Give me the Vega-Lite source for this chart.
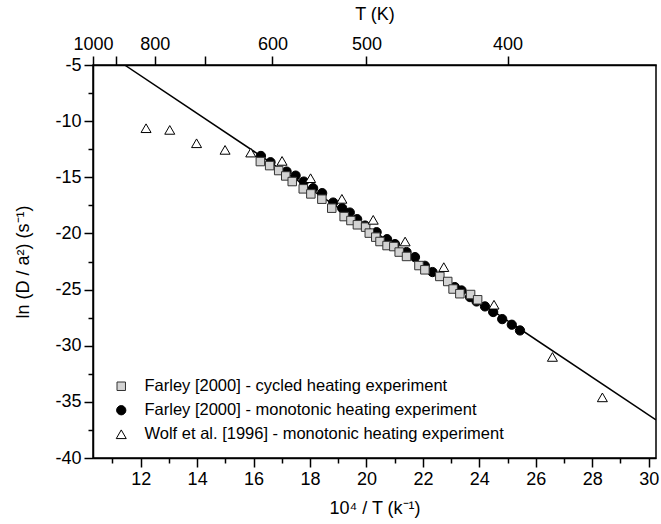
{
  "$schema": "https://vega.github.io/schema/vega-lite/v6.json",
  "width": 563,
  "height": 393,
  "autosize": {"type": "none"},
  "padding": {"left": 93, "top": 65, "right": 5, "bottom": 66},
  "background": "white",
  "config": {
    "view": {"stroke": "#000", "strokeWidth": 1.5},
    "font": "Liberation Sans",
    "axis": {
      "grid": false,
      "domainColor": "#000",
      "domainWidth": 1.5,
      "tickColor": "#000",
      "tickWidth": 1.5,
      "labelColor": "#000",
      "titleColor": "#000",
      "labelFont": "Liberation Sans",
      "titleFont": "Liberation Sans",
      "labelFontSize": 18,
      "titleFontSize": 18,
      "titleFontWeight": "normal",
      "labelOverlap": false,
      "labelFlush": false,
      "labelBound": false
    },
    "legend": {
      "labelFont": "Liberation Sans",
      "labelFontSize": 16.5,
      "labelColor": "#000",
      "labelLimit": 0
    }
  },
  "datasets": {
    "fit": [
      {"x": 11.43, "y": -5},
      {"x": 30.26, "y": -36.6}
    ],
    "obs": [
      {"series": "Farley [2000] - monotonic heating experiment", "x": 16.26, "y": -13.10},
      {"series": "Farley [2000] - monotonic heating experiment", "x": 16.60, "y": -13.66},
      {"series": "Farley [2000] - monotonic heating experiment", "x": 17.17, "y": -14.49},
      {"series": "Farley [2000] - monotonic heating experiment", "x": 17.49, "y": -14.85},
      {"series": "Farley [2000] - monotonic heating experiment", "x": 17.78, "y": -15.38},
      {"series": "Farley [2000] - monotonic heating experiment", "x": 18.11, "y": -15.97},
      {"series": "Farley [2000] - monotonic heating experiment", "x": 18.43, "y": -16.41},
      {"series": "Farley [2000] - monotonic heating experiment", "x": 18.82, "y": -17.25},
      {"series": "Farley [2000] - monotonic heating experiment", "x": 19.14, "y": -17.75},
      {"series": "Farley [2000] - monotonic heating experiment", "x": 19.41, "y": -18.14},
      {"series": "Farley [2000] - monotonic heating experiment", "x": 19.67, "y": -18.73},
      {"series": "Farley [2000] - monotonic heating experiment", "x": 19.95, "y": -19.30},
      {"series": "Farley [2000] - monotonic heating experiment", "x": 20.36, "y": -19.89},
      {"series": "Farley [2000] - monotonic heating experiment", "x": 20.73, "y": -20.51},
      {"series": "Farley [2000] - monotonic heating experiment", "x": 21.01, "y": -20.95},
      {"series": "Farley [2000] - monotonic heating experiment", "x": 21.42, "y": -21.66},
      {"series": "Farley [2000] - monotonic heating experiment", "x": 21.72, "y": -22.11},
      {"series": "Farley [2000] - monotonic heating experiment", "x": 22.07, "y": -22.88},
      {"series": "Farley [2000] - monotonic heating experiment", "x": 22.34, "y": -23.44},
      {"series": "Farley [2000] - monotonic heating experiment", "x": 23.13, "y": -24.78},
      {"series": "Farley [2000] - monotonic heating experiment", "x": 23.37, "y": -25.08},
      {"series": "Farley [2000] - monotonic heating experiment", "x": 23.67, "y": -25.67},
      {"series": "Farley [2000] - monotonic heating experiment", "x": 23.90, "y": -26.06},
      {"series": "Farley [2000] - monotonic heating experiment", "x": 24.20, "y": -26.50},
      {"series": "Farley [2000] - monotonic heating experiment", "x": 24.49, "y": -27.00},
      {"series": "Farley [2000] - monotonic heating experiment", "x": 24.81, "y": -27.63},
      {"series": "Farley [2000] - monotonic heating experiment", "x": 25.15, "y": -28.13},
      {"series": "Farley [2000] - monotonic heating experiment", "x": 25.44, "y": -28.64},
      {"series": "Farley [2000] - cycled heating experiment", "x": 16.24, "y": -13.60},
      {"series": "Farley [2000] - cycled heating experiment", "x": 16.57, "y": -13.96},
      {"series": "Farley [2000] - cycled heating experiment", "x": 16.89, "y": -14.40},
      {"series": "Farley [2000] - cycled heating experiment", "x": 17.14, "y": -14.88},
      {"series": "Farley [2000] - cycled heating experiment", "x": 17.37, "y": -15.38},
      {"series": "Farley [2000] - cycled heating experiment", "x": 17.76, "y": -16.03},
      {"series": "Farley [2000] - cycled heating experiment", "x": 18.03, "y": -16.48},
      {"series": "Farley [2000] - cycled heating experiment", "x": 18.42, "y": -16.95},
      {"series": "Farley [2000] - cycled heating experiment", "x": 18.77, "y": -17.75},
      {"series": "Farley [2000] - cycled heating experiment", "x": 19.21, "y": -18.50},
      {"series": "Farley [2000] - cycled heating experiment", "x": 19.45, "y": -18.85},
      {"series": "Farley [2000] - cycled heating experiment", "x": 19.68, "y": -19.23},
      {"series": "Farley [2000] - cycled heating experiment", "x": 19.97, "y": -19.44},
      {"series": "Farley [2000] - cycled heating experiment", "x": 20.10, "y": -19.97},
      {"series": "Farley [2000] - cycled heating experiment", "x": 20.33, "y": -20.33},
      {"series": "Farley [2000] - cycled heating experiment", "x": 20.48, "y": -20.72},
      {"series": "Farley [2000] - cycled heating experiment", "x": 20.73, "y": -21.08},
      {"series": "Farley [2000] - cycled heating experiment", "x": 20.97, "y": -21.17},
      {"series": "Farley [2000] - cycled heating experiment", "x": 21.16, "y": -21.66},
      {"series": "Farley [2000] - cycled heating experiment", "x": 21.42, "y": -22.05},
      {"series": "Farley [2000] - cycled heating experiment", "x": 21.86, "y": -22.86},
      {"series": "Farley [2000] - cycled heating experiment", "x": 22.07, "y": -23.24},
      {"series": "Farley [2000] - cycled heating experiment", "x": 22.60, "y": -23.83},
      {"series": "Farley [2000] - cycled heating experiment", "x": 22.88, "y": -24.28},
      {"series": "Farley [2000] - cycled heating experiment", "x": 23.07, "y": -24.95},
      {"series": "Farley [2000] - cycled heating experiment", "x": 23.31, "y": -25.37},
      {"series": "Farley [2000] - cycled heating experiment", "x": 23.69, "y": -25.44},
      {"series": "Farley [2000] - cycled heating experiment", "x": 23.94, "y": -25.91},
      {"series": "Wolf et al. [1996] - monotonic heating experiment", "x": 12.19, "y": -10.63},
      {"series": "Wolf et al. [1996] - monotonic heating experiment", "x": 13.03, "y": -10.78},
      {"series": "Wolf et al. [1996] - monotonic heating experiment", "x": 13.98, "y": -11.97},
      {"series": "Wolf et al. [1996] - monotonic heating experiment", "x": 14.99, "y": -12.56},
      {"series": "Wolf et al. [1996] - monotonic heating experiment", "x": 15.90, "y": -12.80},
      {"series": "Wolf et al. [1996] - monotonic heating experiment", "x": 17.01, "y": -13.54},
      {"series": "Wolf et al. [1996] - monotonic heating experiment", "x": 18.02, "y": -15.08},
      {"series": "Wolf et al. [1996] - monotonic heating experiment", "x": 19.13, "y": -16.92},
      {"series": "Wolf et al. [1996] - monotonic heating experiment", "x": 20.24, "y": -18.79},
      {"series": "Wolf et al. [1996] - monotonic heating experiment", "x": 21.37, "y": -20.72},
      {"series": "Wolf et al. [1996] - monotonic heating experiment", "x": 22.74, "y": -23.00},
      {"series": "Wolf et al. [1996] - monotonic heating experiment", "x": 24.52, "y": -26.35},
      {"series": "Wolf et al. [1996] - monotonic heating experiment", "x": 26.59, "y": -31.00},
      {"series": "Wolf et al. [1996] - monotonic heating experiment", "x": 28.36, "y": -34.60}
    ]
  },
  "resolve": {"axis": {"x": "independent", "y": "independent"}},
  "layer": [
    {
      "data": {"name": "fit"},
      "mark": {"type": "line", "color": "#000", "strokeWidth": 1.5, "clip": true},
      "encoding": {
        "x": {
          "field": "x", "type": "quantitative",
          "scale": {"domain": [10.31, 30.26], "nice": false, "zero": false},
          "axis": {
            "orient": "bottom",
            "values": [12, 14, 16, 18, 20, 22, 24, 26, 28, 30],
            "tickSize": 9,
            "labelPadding": 3,
            "title": "10⁴ / T (k⁻¹)",
            "titlePadding": 11
          }
        },
        "y": {
          "field": "y", "type": "quantitative",
          "scale": {"domain": [-40, -5], "nice": false, "zero": false},
          "axis": {
            "orient": "left",
            "values": [-5, -10, -15, -20, -25, -30, -35, -40],
            "labelExpr": "'' + datum.value",
            "tickSize": 9,
            "labelPadding": 3,
            "title": "ln (D / a²) (s⁻¹)",
            "titlePadding": 22
          }
        }
      }
    },
    {
      "data": {"name": "obs"},
      "mark": {"type": "point", "filled": true, "opacity": 1, "strokeWidth": 1},
      "encoding": {
        "x": {
          "field": "x", "type": "quantitative",
          "axis": {
            "orient": "bottom",
            "values": [11, 13, 15, 17, 19, 21, 23, 25, 27, 29],
            "labels": false,
            "tickSize": 5,
            "domain": false,
            "title": null
          }
        },
        "y": {
          "field": "y", "type": "quantitative",
          "axis": {
            "orient": "left",
            "values": [-7.5, -12.5, -17.5, -22.5, -27.5, -32.5, -37.5],
            "labels": false,
            "tickSize": 5,
            "domain": false,
            "title": null
          }
        },
        "shape": {
          "field": "series", "type": "nominal",
          "scale": {
            "domain": ["Farley [2000] - cycled heating experiment", "Farley [2000] - monotonic heating experiment", "Wolf et al. [1996] - monotonic heating experiment"],
            "range": ["square", "circle", "triangle-up"]
          },
          "legend": {
            "orient": "none",
            "legendX": 20,
            "legendY": 313,
            "title": null,
            "labelOffset": 15,
            "rowPadding": 7,
            "symbolStrokeWidth": 1
          }
        },
        "fill": {
          "field": "series", "type": "nominal",
          "scale": {
            "domain": ["Farley [2000] - cycled heating experiment", "Farley [2000] - monotonic heating experiment", "Wolf et al. [1996] - monotonic heating experiment"],
            "range": ["#d3d3d3", "#000000", "#ffffff"]
          },
          "legend": {
            "orient": "none",
            "legendX": 20,
            "legendY": 313,
            "title": null,
            "labelOffset": 15,
            "rowPadding": 7,
            "symbolStrokeWidth": 1
          }
        },
        "stroke": {
          "field": "series", "type": "nominal",
          "scale": {
            "domain": ["Farley [2000] - cycled heating experiment", "Farley [2000] - monotonic heating experiment", "Wolf et al. [1996] - monotonic heating experiment"],
            "range": ["#333333", "#000000", "#000000"]
          },
          "legend": {
            "orient": "none",
            "legendX": 20,
            "legendY": 313,
            "title": null,
            "labelOffset": 15,
            "rowPadding": 7,
            "symbolStrokeWidth": 1
          }
        },
        "size": {
          "field": "series", "type": "nominal",
          "scale": {
            "domain": ["Farley [2000] - cycled heating experiment", "Farley [2000] - monotonic heating experiment", "Wolf et al. [1996] - monotonic heating experiment"],
            "range": [72, 100, 115]
          },
          "legend": {
            "orient": "none",
            "legendX": 20,
            "legendY": 313,
            "title": null,
            "labelOffset": 15,
            "rowPadding": 7,
            "symbolStrokeWidth": 1
          }
        }
      }
    },
    {
      "data": {"name": "fit"},
      "mark": {"type": "point", "opacity": 0},
      "encoding": {
        "x": {
          "field": "x", "type": "quantitative",
          "axis": {
            "orient": "top",
            "values": [10.31, 11.11, 12.5, 14.29, 16.67, 20, 25],
            "labelExpr": "datum.value < 10.5 ? '1000' : datum.value < 11.5 ? '' : datum.value < 13 ? '800' : datum.value < 15 ? '' : datum.value < 17 ? '600' : datum.value < 21 ? '500' : '400'",
            "tickSize": 9,
            "labelPadding": 3,
            "title": "T (K)",
            "titlePadding": 12
          }
        },
        "y": {"field": "y", "type": "quantitative", "axis": null}
      }
    }
  ]
}
